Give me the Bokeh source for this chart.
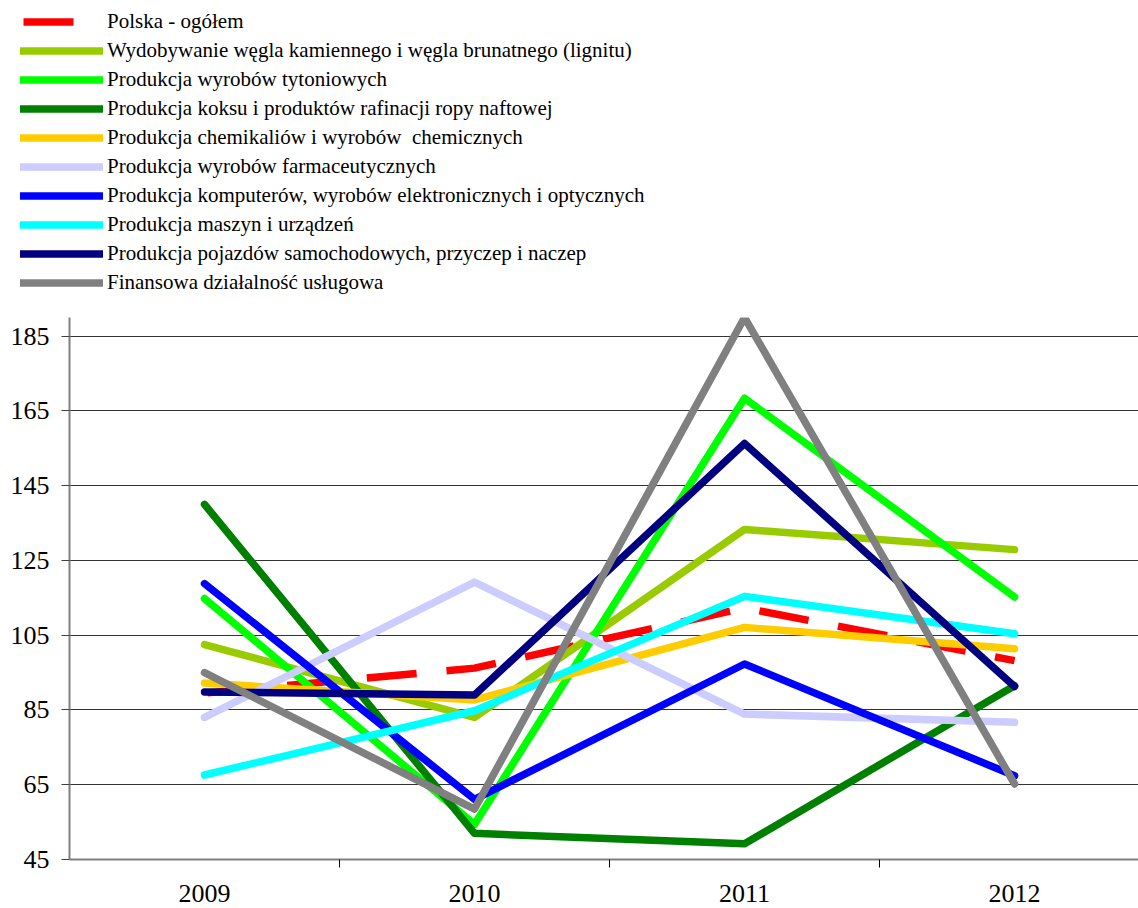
from bokeh.plotting import figure
from bokeh.models import Range1d, FixedTicker, Legend, LegendItem
from bokeh.embed import file_html
from bokeh.resources import INLINE

# ---- data ----
years = ["2009", "2010", "2011", "2012"]
y_ticks = [45, 65, 85, 105, 125, 145, 165, 185]

names = [
    "Polska - ogółem",
    "Wydobywanie węgla kamiennego i węgla brunatnego (lignitu)",
    "Produkcja wyrobów tytoniowych",
    "Produkcja koksu i produktów rafinacji ropy naftowej",
    "Produkcja chemikaliów i wyrobów  chemicznych",
    "Produkcja wyrobów farmaceutycznych",
    "Produkcja komputerów, wyrobów elektronicznych i optycznych",
    "Produkcja maszyn i urządzeń",
    "Produkcja pojazdów samochodowych, przyczep i naczep",
    "Finansowa działalność usługowa",
]
polska = [89.5, 96.2, 112.3, 98.2]
wegiel = [102.5, 83.0, 133.3, 127.9]
tyton = [114.8, 54.4, 168.4, 115.2]
koks = [140.0, 52.0, 49.2, 91.5]
chem = [92.2, 87.7, 107.1, 101.4]
farma = [83.0, 119.2, 83.9, 81.7]
komp = [118.8, 61.1, 97.3, 67.4]
maszyny = [67.6, 84.8, 115.4, 105.4]
pojazdy = [89.8, 89.0, 156.3, 91.3]
finanse = [95.0, 58.5, 190.0, 65.2]

colors = ["#FF0000", "#99CC00", "#00FF00", "#008000", "#FFCC00",
          "#CCCCFF", "#0000FF", "#00FFFF", "#000080", "#808080"]
series = [polska, wegiel, tyton, koks, chem, farma, komp, maszyny, pojazdy, finanse]

xs = list(range(len(years)))

FONT = "Liberation Serif"
LW = 7.5


def add_series(fig):
    rs = []
    for i, (vals, col) in enumerate(zip(series, colors)):
        if i == 0:
            r = fig.line(xs, vals, line_color=col, line_width=LW, line_dash="50 30",
                         line_dash_offset=77, line_cap="butt", line_join="round")
        else:
            r = fig.line(xs, vals, line_color=col, line_width=LW,
                         line_cap="round", line_join="round")
        rs.append(r)
    return rs


# ---- legend panel (same series, kept out of view; only its legend shows) ----
lg = figure(width=1138, height=317, output_backend="svg", toolbar_location=None,
            x_range=Range1d(100, 101), y_range=Range1d(1000, 1001),
            x_axis_location=None, y_axis_location=None, min_border=0)
lg.grid.visible = False
lg.outline_line_color = None
lg.background_fill_color = "white"
lg.border_fill_color = "white"
lg_renderers = add_series(lg)

items = [LegendItem(label=n, renderers=[r]) for n, r in zip(names, lg_renderers)]
legend = Legend(items=items, location=(20, 20), orientation="vertical",
                border_line_color=None, background_fill_alpha=0,
                padding=0, margin=0, spacing=0,
                label_height=29, glyph_height=29, glyph_width=83,
                label_standoff=4,
                label_text_font=FONT, label_text_font_size="21px",
                label_text_color="black")
lg.add_layout(legend, "center")

# ---- main chart ----
p = figure(width=1138, height=591, output_backend="svg", toolbar_location=None,
           x_range=Range1d(-0.5, 3.459), y_range=Range1d(45, 190),
           min_border_left=69, min_border_right=0, min_border_top=0,
           min_border_bottom=49)
p.outline_line_color = None
p.background_fill_color = "white"
p.border_fill_color = "white"
add_series(p)

p.xaxis.ticker = FixedTicker(ticks=xs, minor_ticks=[0.5, 1.5, 2.5])
p.xaxis.major_label_overrides = {i: y for i, y in enumerate(years)}
p.xaxis.major_tick_line_color = None
p.xaxis.major_tick_out = 0
p.xaxis.major_tick_in = 0
p.xaxis.minor_tick_out = 8
p.xaxis.minor_tick_in = 0
p.xaxis.minor_tick_line_color = "black"
p.xaxis.axis_line_color = "#808080"
p.xaxis.axis_line_width = 2
p.xaxis.major_label_standoff = 17
p.xaxis.major_label_text_font = FONT
p.xaxis.major_label_text_font_size = "26px"
p.xaxis.major_label_text_color = "black"

p.yaxis.ticker = FixedTicker(ticks=y_ticks)
p.yaxis.major_tick_out = 8
p.yaxis.major_tick_in = 0
p.yaxis.major_tick_line_color = "#404040"
p.yaxis.minor_tick_line_color = None
p.yaxis.axis_line_color = "#808080"
p.yaxis.axis_line_width = 2
p.yaxis.major_label_standoff = 12
p.yaxis.major_label_text_font = FONT
p.yaxis.major_label_text_font_size = "26px"
p.yaxis.major_label_text_color = "black"

p.xgrid.grid_line_color = None
p.ygrid.grid_line_color = "#333333"
p.ygrid.grid_line_width = 1

# two independent roots stacked on the page: legend block, then chart
open("out.html", "w").write(file_html([lg, p], INLINE))
